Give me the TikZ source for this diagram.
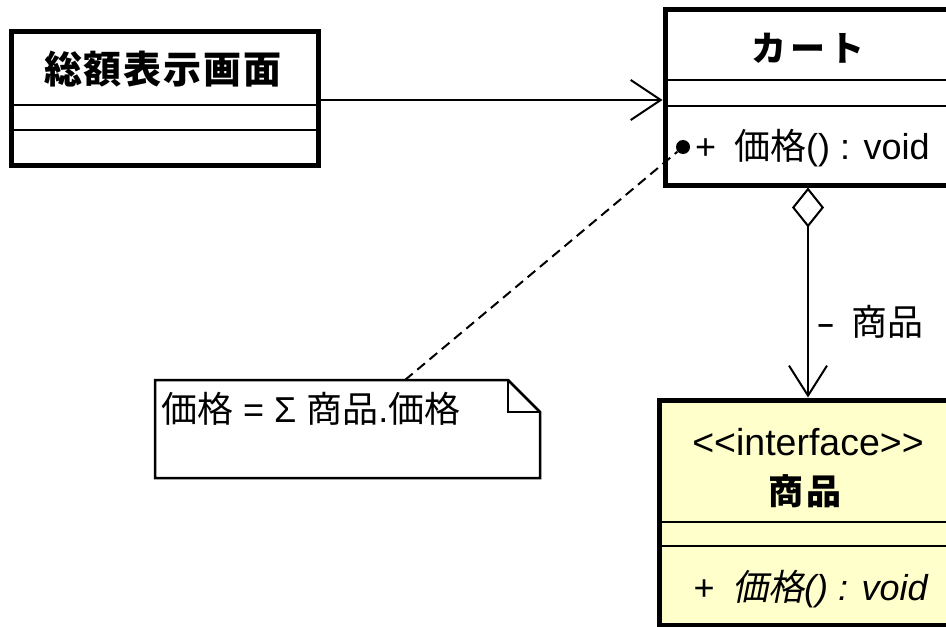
\documentclass[tikz,border=0pt]{standalone}
\usepackage{fontspec}
\setmainfont{Liberation Sans}
\newfontfamily\jp{Noto Sans CJK JP}
\newfontfamily\jpit[FakeSlant=0.2]{Noto Sans CJK JP}
\usetikzlibrary{arrows.meta}
\definecolor{ifacefill}{RGB}{255,255,204}
\tikzset{
  classbox/.style={draw, line width=5pt, fill=white, inner sep=0pt, outer sep=2.5pt},
  sepline/.style={line width=2.5pt},
  txt/.style={inner sep=0pt, font=\fontsize{36}{42}\selectfont},
  assoc/.style={line width=2pt, -{Straight Barb[length=30pt, width=40pt, line width=2pt]}},
}
\begin{document}
\begin{tikzpicture}[x=1pt, y=-1pt]
\useasboundingbox (0,0) rectangle (946,627);

% class 総額表示画面
\node[classbox, minimum width=307pt, minimum height=134pt] (scr) at (164.5,98) {};
\draw[sepline] (11,105) -- (318,105);
\draw[sepline] (11,130) -- (318,130);
\node[txt] (scrname) at (163,69) {\fontsize{38}{44}\selectfont\jp\bfseries 総\kern2pt 額\kern2pt 表\kern2pt 示\kern2pt 画\kern2pt 面};

% class カート
\node[classbox, minimum width=286pt, minimum height=176pt] (cart) at (808,97) {};
\draw[sepline] (665,80) -- (951,80);
\draw[sepline] (665,106) -- (951,106);
\node[txt] (cartname) at (808,48) {\fontsize{35}{40}\selectfont\jp\bfseries カ\kern4pt ー\kern4pt ト};
\node[txt, anchor=west] (cartop) at (695,148) {+\hspace{0.5em}{\jp 価格}() : void};
\node[circle, fill=black, inner sep=0pt, minimum size=14pt] (dot) at (683,147) {};

% interface 商品
\node[classbox, fill=ifacefill, minimum width=298pt, minimum height=225pt] (iface) at (808,512.5) {};
\draw[sepline] (659,522) -- (957,522);
\draw[sepline] (659,546) -- (957,546);
\node[txt] (stereo) at (808,442) {\fontsize{37.5}{42}\selectfont <{}<interface>{}>};
\node[txt] (ifname) at (805,491) {\fontsize{35}{40}\selectfont\jp\bfseries 商\kern4pt 品};
\node[txt, anchor=west] (ifop) at (693,589) {\itshape +\hspace{0.5em}{\jpit 価格}() : void};

% note
\node[minimum width=385pt, minimum height=98pt, inner sep=0pt] (note) at (347.5,429) {};
\draw[line width=2.5pt, fill=white, line join=miter]
  (155,380) -- (508,380) -- (540,412) -- (540,478) -- (155,478) -- cycle;
\draw[line width=2.5pt] (508,380) -- (508,412) -- (540,412);
\node[txt, anchor=west] (notetext) at (161,409) {{\jp 価格} = Σ {\jp 商品}.{\jp 価格}};
\coordinate (notetop) at (405,380);

% connectors
\draw[assoc] (scr.east |- 0,100) -- (cart.west |- 0,100);
\draw[line width=2pt, {Diamond[open, length=40pt, width=32pt, line width=2pt]}-{Straight Barb[length=30pt, width=38pt, line width=2pt]}]
  (cart.south) -- (iface.north);
\node[txt, anchor=west] (rolelabel) at (816,322) {\scalebox{1.6}[1]{-}\hspace{0.45em}{\jp 商品}};
\draw[line width=2pt, dash pattern=on 10pt off 6pt] (notetop) -- (dot);
\end{tikzpicture}
\end{document}
